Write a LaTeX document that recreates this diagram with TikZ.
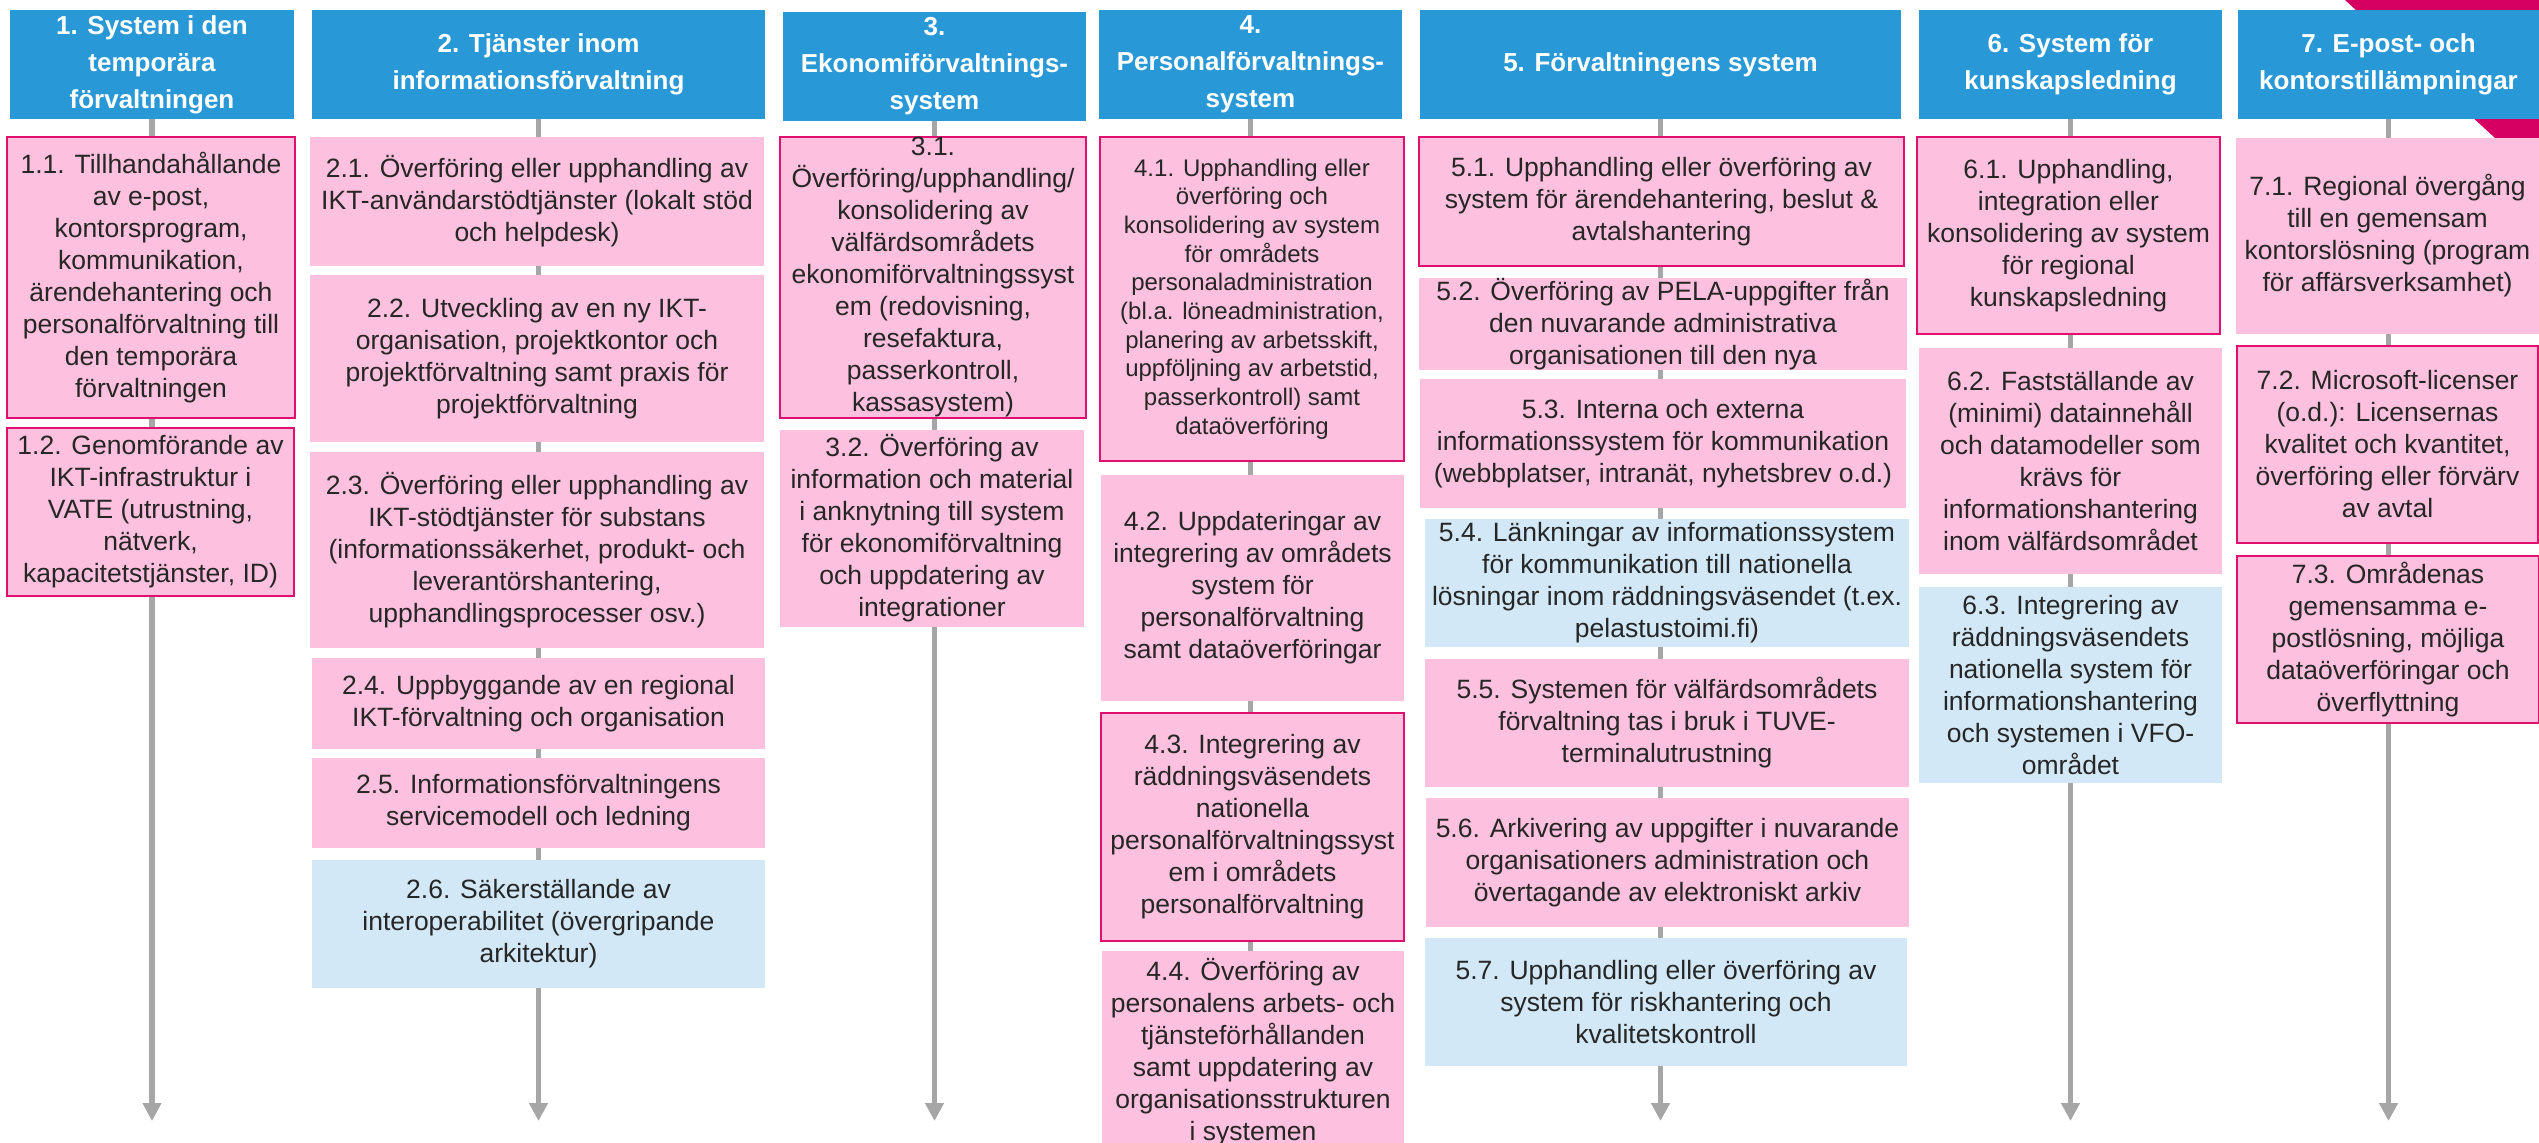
\documentclass[tikz,border=0pt]{standalone}
\usepackage{fontspec}
\setmainfont{Liberation Sans}
\usetikzlibrary{arrows.meta}
\definecolor{hblue}{RGB}{41,152,214}
\definecolor{pinkf}{RGB}{253,192,222}
\definecolor{blif}{RGB}{210,232,246}
\definecolor{mag}{RGB}{214,0,98}
\definecolor{bord}{RGB}{224,16,110}
\definecolor{connc}{RGB}{166,166,166}
\definecolor{txt}{RGB}{38,38,38}
\newcommand\bx[7]{\node[#2, minimum width={(#5-#3)*0.5pt}, minimum height={(#6-#4)*0.5pt}] (#1) at ({(#3+#5)/2},{(#4+#6)/2}) {#7};}
\tikzset{
  hdr/.style={fill=hblue, text=white, inner sep=0pt, align=center, font=\fontsize{13}{18.5}\selectfont\bfseries},
  pbox/.style={fill=pinkf, text=txt, inner sep=0pt, align=center, font=\fontsize{13.25}{16}\selectfont},
  bbox/.style={pbox, fill=blif},
  rbox/.style={pbox, draw=bord, line width=1.25pt},
  tbox/.style={pbox, draw=bord, line width=0.6pt},
  cline/.style={draw=connc, line width=2.7pt},
  carrow/.style={cline, -{Triangle[width=9pt,length=9pt]}}
}
\begin{document}
\begin{tikzpicture}[x=0.5pt,y=-0.5pt]
\useasboundingbox (0,0) rectangle (2539,1143);
\clip (0,0) rectangle (2539,1143);
\fill[white] (0,0) rectangle (2539,1143);
\fill[mag] (2345,0) -- (2539,0) -- (2539,138) -- (2495,138) -- cycle;
% headers
\bx{h1}{hdr}{10}{10}{294}{119}{1. System i den\\temporära\\förvaltningen}
\bx{h2}{hdr}{312}{10}{765}{119}{2. Tjänster inom\\informationsförvaltning}
\bx{h3}{hdr}{783}{12}{1086}{121}{3.\\Ekonomiförvaltnings-\\system}
\bx{h4}{hdr}{1099}{10}{1402}{119}{4.\\Personalförvaltnings-\\system}
\bx{h5}{hdr}{1420}{10}{1901}{119}{5. Förvaltningens system}
\bx{h6}{hdr}{1919}{10}{2222}{119}{6. System för\\kunskapsledning}
\bx{h7}{hdr}{2238}{10}{2539}{119}{7. E-post- och\\kontorstillämpningar}
% column 1
\bx{b11}{rbox}{7}{137}{295}{418}{1.1. Tillhandahållande\\av e-post,\\kontorsprogram,\\kommunikation,\\ärendehantering och\\personalförvaltning till\\den temporära\\förvaltningen}
\bx{b12}{rbox}{7}{428}{294}{596}{1.2. Genomförande av\\IKT-infrastruktur i\\VATE (utrustning,\\nätverk,\\kapacitetstjänster, ID)}
% column 2
\bx{b21}{pbox}{310}{137}{764}{266}{2.1. Överföring eller upphandling av\\IKT-användarstödtjänster (lokalt stöd\\och helpdesk)}
\bx{b22}{pbox}{310}{275}{764}{442}{2.2. Utveckling av en ny IKT-\\organisation, projektkontor och\\projektförvaltning samt praxis för\\projektförvaltning}
\bx{b23}{pbox}{310}{452}{764}{648}{2.3. Överföring eller upphandling av\\IKT-stödtjänster för substans\\(informationssäkerhet, produkt- och\\leverantörshantering,\\upphandlingsprocesser osv.)}
\bx{b24}{pbox}{312}{658}{765}{749}{2.4. Uppbyggande av en regional\\IKT-förvaltning och organisation}
\bx{b25}{pbox}{312}{758}{765}{848}{2.5. Informationsförvaltningens\\servicemodell och ledning}
\bx{b26}{bbox}{312}{860}{765}{988}{2.6. Säkerställande av\\interoperabilitet (övergripande\\arkitektur)}
% column 3
\bx{b31}{rbox}{780}{137}{1086}{418}{3.1.\\Överföring/upphandling/\\konsolidering av\\välfärdsområdets\\ekonomiförvaltningssyst\\em (redovisning,\\resefaktura,\\passerkontroll,\\kassasystem)}
\bx{b32}{pbox}{780}{430}{1084}{627}{3.2. Överföring av\\information och material\\i anknytning till system\\för ekonomiförvaltning\\och uppdatering av\\integrationer}
% column 4
\bx{b41}{rbox, font=\fontsize{12}{14.35}\selectfont}{1100}{137}{1404}{461}{4.1. Upphandling eller\\överföring och\\konsolidering av system\\för områdets\\personaladministration\\(bl.a. löneadministration,\\planering av arbetsskift,\\uppföljning av arbetstid,\\passerkontroll) samt\\dataöverföring}
\bx{b42}{pbox}{1101}{475}{1404}{701}{4.2. Uppdateringar av\\integrering av områdets\\system för\\personalförvaltning\\samt dataöverföringar}
\bx{b43}{rbox}{1101}{713}{1404}{941}{4.3. Integrering av\\räddningsväsendets\\nationella\\personalförvaltningssyst\\em i områdets\\personalförvaltning}
\bx{b44}{pbox}{1102}{951}{1404}{1153}{4.4. Överföring av\\personalens arbets- och\\tjänsteförhållanden\\samt uppdatering av\\organisationsstrukturen\\i systemen}
% column 5
\bx{b51}{rbox}{1419}{137}{1904}{266}{5.1. Upphandling eller överföring av\\system för ärendehantering, beslut \&\\avtalshantering}
\bx{b52}{pbox}{1419}{279}{1907}{369}{5.2. Överföring av PELA-uppgifter från\\den nuvarande administrativa\\organisationen till den nya}
\bx{b53}{pbox}{1420}{379}{1906}{508}{5.3. Interna och externa\\informationssystem för kommunikation\\(webbplatser, intranät, nyhetsbrev o.d.)}
\bx{b54}{bbox}{1425}{519}{1909}{647}{5.4. Länkningar av informationssystem\\för kommunikation till nationella\\lösningar inom räddningsväsendet (t.ex.\\pelastustoimi.fi)}
\bx{b55}{pbox}{1425}{659}{1909}{787}{5.5. Systemen för välfärdsområdets\\förvaltning tas i bruk i TUVE-\\terminalutrustning}
\bx{b56}{pbox}{1426}{798}{1909}{927}{5.6. Arkivering av uppgifter i nuvarande\\organisationers administration och\\övertagande av elektroniskt arkiv}
\bx{b57}{bbox}{1425}{938}{1907}{1066}{5.7. Upphandling eller överföring av\\system för riskhantering och\\kvalitetskontroll}
% column 6
\bx{b61}{rbox}{1917}{137}{2220}{334}{6.1. Upphandling,\\integration eller\\konsolidering av system\\för regional\\kunskapsledning}
\bx{b62}{pbox}{1919}{348}{2222}{574}{6.2. Fastställande av\\(minimi) datainnehåll\\och datamodeller som\\krävs för\\informationshantering\\inom välfärdsområdet}
\bx{b63}{bbox}{1919}{587}{2222}{783}{6.3. Integrering av\\räddningsväsendets\\nationella system för\\informationshantering\\och systemen i VFO-\\området}
% column 7
\bx{b71}{pbox}{2236}{138}{2539}{334}{7.1. Regional övergång\\till en gemensam\\kontorslösning (program\\för affärsverksamhet)}
\bx{b72}{rbox}{2237}{346}{2538}{543}{7.2. Microsoft-licenser\\(o.d.): Licensernas\\kvalitet och kvantitet,\\överföring eller förvärv\\av avtal}
\bx{b73}{tbox}{2237}{556}{2539}{723}{7.3. Områdenas\\gemensamma e-\\postlösning, möjliga\\dataöverföringar och\\överflyttning}
% end points
\coordinate (e1) at (148,1121);
\coordinate (e2) at (539,1121);
\coordinate (e3) at (932,1121);
\coordinate (e5) at (1658,1121);
\coordinate (e6) at (2066,1121);
\coordinate (e7) at (2384,1121);
% connectors column 1
\draw[cline] (h1.south) -- (h1.south |- b11.north);
\draw[cline] (h1.south |- b11.south) -- (h1.south |- b12.north);
\draw[carrow] (h1.south |- b12.south) -- (h1.south |- e1);
% column 2
\draw[cline] (h2.south) -- (h2.south |- b21.north);
\draw[cline] (h2.south |- b21.south) -- (h2.south |- b22.north);
\draw[cline] (h2.south |- b22.south) -- (h2.south |- b23.north);
\draw[cline] (h2.south |- b23.south) -- (h2.south |- b24.north);
\draw[cline] (h2.south |- b24.south) -- (h2.south |- b25.north);
\draw[cline] (h2.south |- b25.south) -- (h2.south |- b26.north);
\draw[carrow] (h2.south |- b26.south) -- (h2.south |- e2);
% column 3
\draw[cline] (h3.south) -- (h3.south |- b31.north);
\draw[cline] (h3.south |- b31.south) -- (h3.south |- b32.north);
\draw[carrow] (h3.south |- b32.south) -- (h3.south |- e3);
% column 4
\draw[cline] (h4.south) -- (h4.south |- b41.north);
\draw[cline] (h4.south |- b41.south) -- (h4.south |- b42.north);
\draw[cline] (h4.south |- b42.south) -- (h4.south |- b43.north);
\draw[cline] (h4.south |- b43.south) -- (h4.south |- b44.north);
% column 5
\draw[cline] (h5.south) -- (h5.south |- b51.north);
\draw[cline] (h5.south |- b51.south) -- (h5.south |- b52.north);
\draw[cline] (h5.south |- b52.south) -- (h5.south |- b53.north);
\draw[cline] (h5.south |- b53.south) -- (h5.south |- b54.north);
\draw[cline] (h5.south |- b54.south) -- (h5.south |- b55.north);
\draw[cline] (h5.south |- b55.south) -- (h5.south |- b56.north);
\draw[cline] (h5.south |- b56.south) -- (h5.south |- b57.north);
\draw[carrow] (h5.south |- b57.south) -- (h5.south |- e5);
% column 6
\draw[cline] (h6.south) -- (h6.south |- b61.north);
\draw[cline] (h6.south |- b61.south) -- (h6.south |- b62.north);
\draw[cline] (h6.south |- b62.south) -- (h6.south |- b63.north);
\draw[carrow] (h6.south |- b63.south) -- (h6.south |- e6);
% column 7
\draw[cline] (h7.south) -- (h7.south |- b71.north);
\draw[cline] (h7.south |- b71.south) -- (h7.south |- b72.north);
\draw[cline] (h7.south |- b72.south) -- (h7.south |- b73.north);
\draw[carrow] (h7.south |- b73.south) -- (h7.south |- e7);
\end{tikzpicture}
\end{document}
